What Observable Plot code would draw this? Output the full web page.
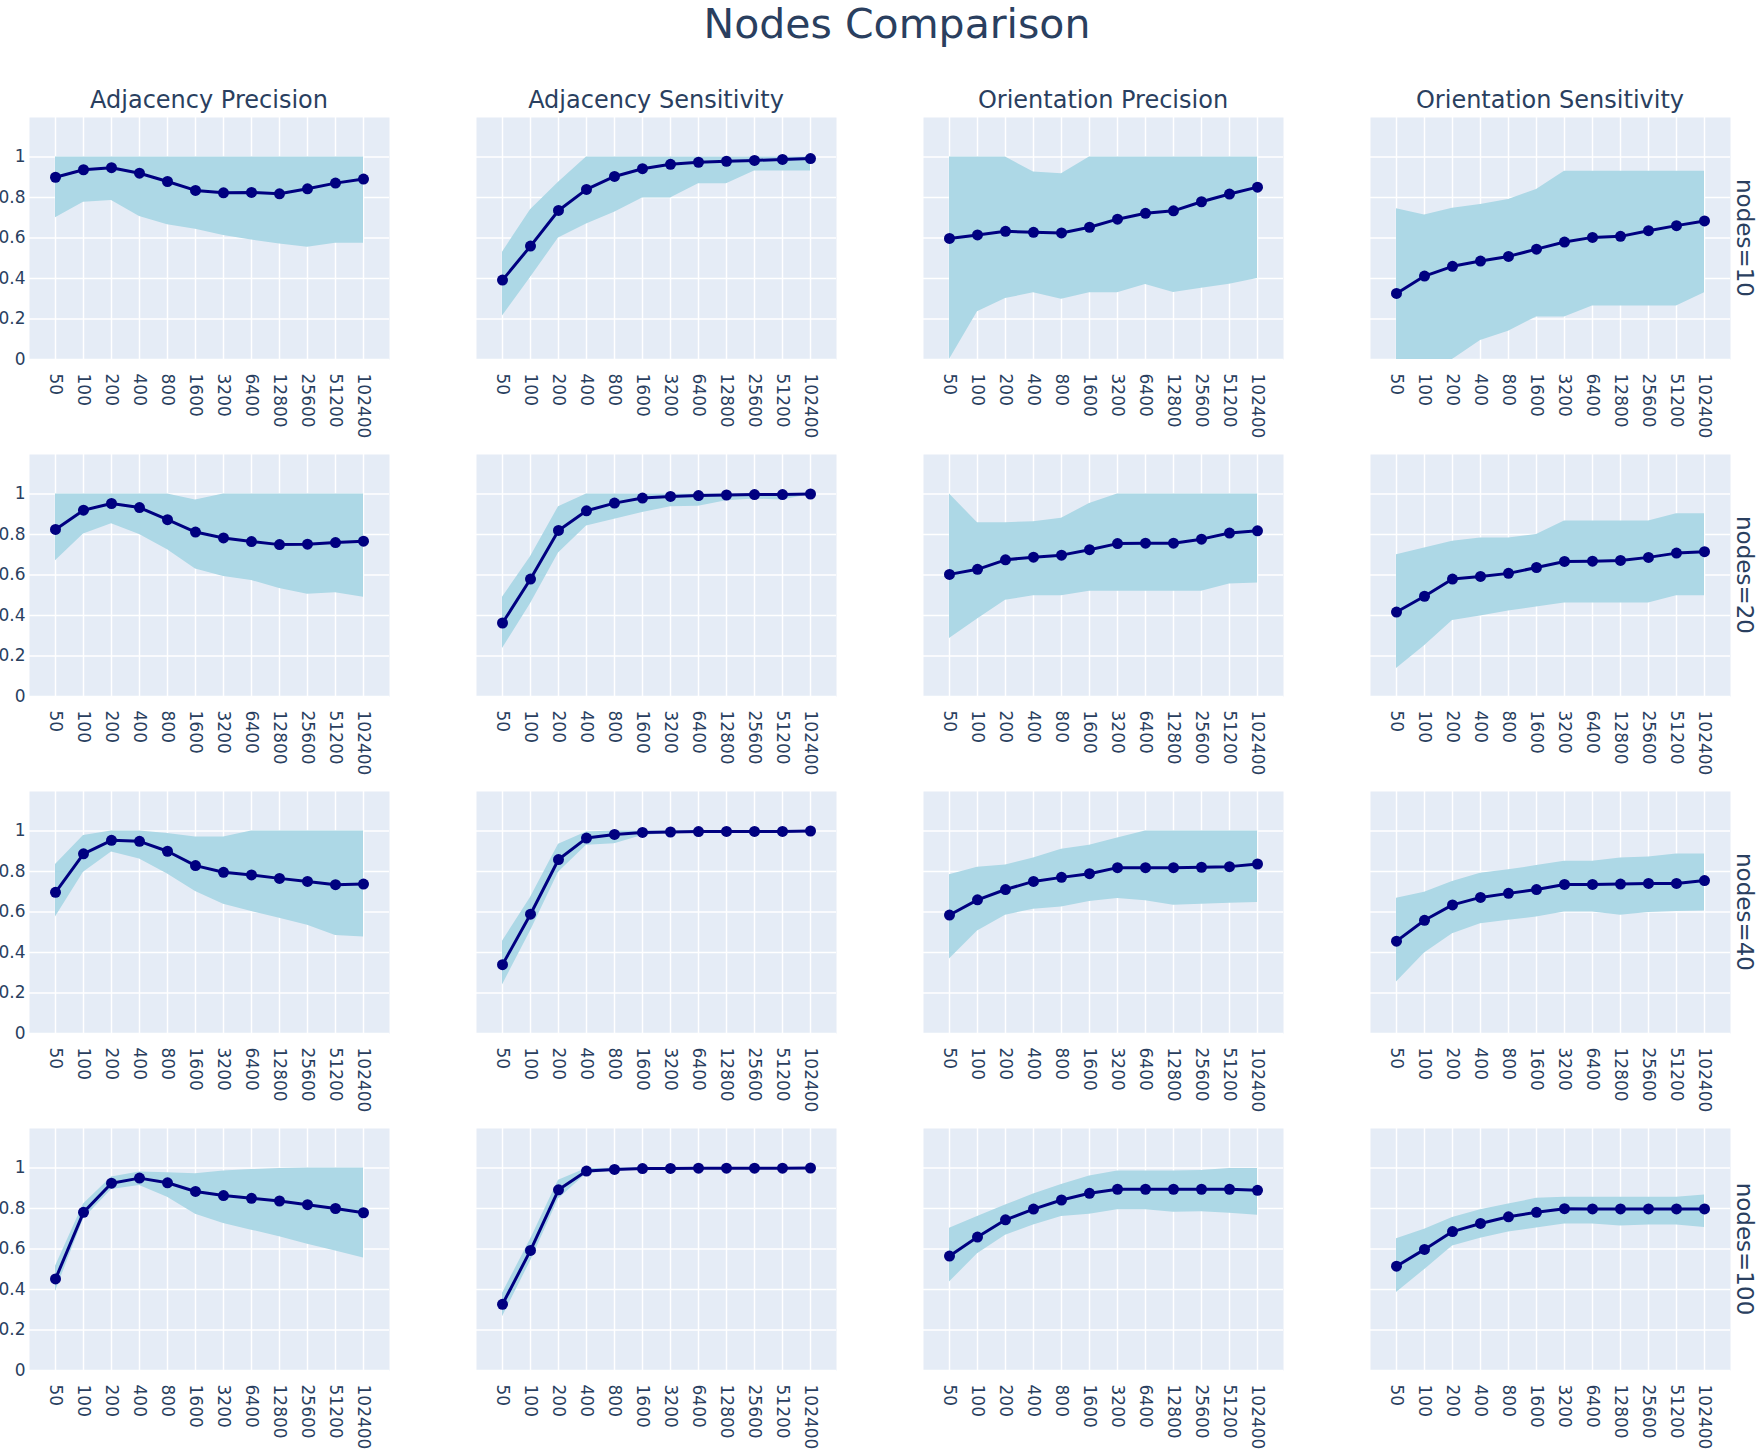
<!DOCTYPE html>
<html>
<head>
<meta charset="utf-8">
<script src="https://cdn.jsdelivr.net/npm/d3@7"></script>
<script src="https://cdn.jsdelivr.net/npm/@observablehq/plot@0.6"></script>
<style>
  html, body { margin: 0; padding: 0; background: #ffffff; overflow: hidden; }
  #root { position: relative; width: 1758px; height: 1450px; font-family: "DejaVu Sans", sans-serif; color: #2a3f5f; }
  .txt { position: absolute; white-space: nowrap; line-height: 1; }
  .main-title { font-size: 41px; line-height: normal; transform: translateX(-50%); }
  .col-title { font-size: 24px; transform: translateX(-50%); }
  .row-title { font-size: 23px; writing-mode: vertical-rl; transform: translateY(-50%); }
  .cell { position: absolute; }
</style>
</head>
<body>
<div id="root"></div>
<script>
// ---------- data ----------
const sampleSizes = ["50", "100", "200", "400", "800", "1600", "3200", "6400", "12800", "25600", "51200", "102400"];
const metrics = ["Adjacency Precision", "Adjacency Sensitivity", "Orientation Precision", "Orientation Sensitivity"];
const nodeCounts = [10, 20, 40, 100];
const yTicks = [0, 0.2, 0.4, 0.6, 0.8, 1];
const chartTitle = "Nodes Comparison";

// each array: one row per node count (10, 20, 40, 100), one value per sample size
const adjPrecisionMean = [
  [0.900, 0.937, 0.947, 0.920, 0.879, 0.835, 0.823, 0.825, 0.818, 0.843, 0.871, 0.891],
  [0.825, 0.920, 0.953, 0.933, 0.873, 0.812, 0.783, 0.765, 0.750, 0.752, 0.760, 0.767],
  [0.697, 0.887, 0.954, 0.949, 0.900, 0.829, 0.796, 0.783, 0.766, 0.751, 0.735, 0.738],
  [0.452, 0.781, 0.925, 0.950, 0.927, 0.884, 0.864, 0.850, 0.837, 0.819, 0.800, 0.779]
];
const adjPrecisionLow = [
  [0.700, 0.777, 0.785, 0.706, 0.666, 0.643, 0.612, 0.590, 0.570, 0.554, 0.574, 0.574],
  [0.670, 0.803, 0.853, 0.800, 0.725, 0.630, 0.592, 0.573, 0.533, 0.505, 0.512, 0.490],
  [0.575, 0.796, 0.896, 0.862, 0.788, 0.701, 0.638, 0.602, 0.569, 0.534, 0.484, 0.476],
  [0.390, 0.748, 0.894, 0.914, 0.855, 0.772, 0.726, 0.693, 0.661, 0.623, 0.590, 0.556]
];
const adjPrecisionHigh = [
  [1, 1, 1, 1, 1, 1, 1, 1, 1, 1, 1, 1],
  [1, 1, 1, 1, 1, 0.970, 1, 1, 1, 1, 1, 1],
  [0.834, 0.978, 1, 1, 0.987, 0.970, 0.970, 1, 1, 1, 1, 1],
  [0.515, 0.822, 0.955, 0.980, 0.977, 0.972, 0.985, 0.992, 0.997, 1, 1, 1]
];

const adjSensitivityMean = [
  [0.392, 0.560, 0.736, 0.840, 0.904, 0.942, 0.964, 0.974, 0.979, 0.983, 0.988, 0.992],
  [0.363, 0.580, 0.820, 0.917, 0.955, 0.980, 0.988, 0.992, 0.995, 0.997, 0.997, 1.000],
  [0.340, 0.589, 0.859, 0.965, 0.983, 0.993, 0.995, 0.997, 0.998, 0.998, 0.998, 1.000],
  [0.327, 0.593, 0.892, 0.985, 0.993, 0.997, 0.998, 0.999, 0.999, 0.999, 0.999, 1.000]
];
const adjSensitivityLow = [
  [0.215, 0.405, 0.600, 0.669, 0.727, 0.797, 0.797, 0.868, 0.868, 0.931, 0.931, 0.931],
  [0.237, 0.458, 0.708, 0.842, 0.875, 0.908, 0.937, 0.940, 0.967, 0.975, 0.970, 0.997],
  [0.240, 0.506, 0.796, 0.929, 0.937, 0.978, 0.987, 0.990, 0.992, 0.993, 0.993, 0.995],
  [0.266, 0.540, 0.847, 0.972, 0.985, 0.990, 0.992, 0.993, 0.994, 0.995, 0.995, 0.996]
];
const adjSensitivityHigh = [
  [0.530, 0.740, 0.875, 1, 1, 1, 1, 1, 1, 1, 1, 1],
  [0.490, 0.690, 0.937, 1, 1, 1, 1, 1, 1, 1, 1, 1],
  [0.456, 0.672, 0.934, 0.995, 1, 1, 1, 1, 1, 1, 1, 1],
  [0.382, 0.648, 0.939, 0.997, 1, 1, 1, 1, 1, 1, 1, 1]
];

const oriPrecisionMean = [
  [0.598, 0.615, 0.633, 0.628, 0.625, 0.653, 0.693, 0.722, 0.734, 0.779, 0.817, 0.851],
  [0.603, 0.628, 0.675, 0.688, 0.698, 0.725, 0.755, 0.757, 0.757, 0.777, 0.807, 0.818],
  [0.585, 0.660, 0.711, 0.751, 0.771, 0.789, 0.819, 0.819, 0.819, 0.821, 0.824, 0.837],
  [0.565, 0.659, 0.744, 0.797, 0.842, 0.875, 0.895, 0.895, 0.895, 0.895, 0.895, 0.890]
];
const oriPrecisionLow = [
  [0.000, 0.236, 0.301, 0.329, 0.298, 0.329, 0.329, 0.370, 0.331, 0.352, 0.372, 0.400],
  [0.287, 0.383, 0.475, 0.497, 0.497, 0.520, 0.520, 0.520, 0.520, 0.520, 0.555, 0.560],
  [0.368, 0.506, 0.584, 0.614, 0.625, 0.652, 0.667, 0.655, 0.633, 0.638, 0.643, 0.647],
  [0.437, 0.576, 0.668, 0.718, 0.761, 0.772, 0.794, 0.794, 0.781, 0.784, 0.777, 0.767]
];
const oriPrecisionHigh = [
  [1, 1, 1, 0.926, 0.917, 1, 1, 1, 1, 1, 1, 1],
  [1, 0.858, 0.858, 0.863, 0.880, 0.953, 1, 1, 1, 1, 1, 1],
  [0.784, 0.821, 0.832, 0.867, 0.910, 0.929, 0.965, 1, 1, 1, 1, 1],
  [0.703, 0.761, 0.817, 0.872, 0.919, 0.960, 0.985, 0.985, 0.985, 0.988, 0.997, 0.997]
];

const oriSensitivityMean = [
  [0.326, 0.412, 0.460, 0.486, 0.509, 0.545, 0.580, 0.603, 0.608, 0.636, 0.661, 0.684],
  [0.417, 0.495, 0.580, 0.593, 0.608, 0.637, 0.667, 0.668, 0.672, 0.687, 0.708, 0.715],
  [0.456, 0.559, 0.635, 0.672, 0.692, 0.711, 0.736, 0.736, 0.738, 0.741, 0.741, 0.755],
  [0.515, 0.598, 0.686, 0.726, 0.759, 0.781, 0.799, 0.798, 0.798, 0.798, 0.798, 0.798]
];
const oriSensitivityLow = [
  [-0.120, -0.050, 0.000, 0.094, 0.140, 0.210, 0.210, 0.264, 0.264, 0.264, 0.264, 0.330],
  [0.138, 0.250, 0.375, 0.397, 0.422, 0.442, 0.462, 0.462, 0.462, 0.462, 0.497, 0.497],
  [0.254, 0.398, 0.493, 0.542, 0.559, 0.575, 0.600, 0.600, 0.584, 0.597, 0.602, 0.605],
  [0.385, 0.498, 0.615, 0.653, 0.684, 0.704, 0.723, 0.723, 0.714, 0.718, 0.718, 0.706]
];
const oriSensitivityHigh = [
  [0.744, 0.714, 0.747, 0.765, 0.790, 0.840, 0.929, 0.929, 0.929, 0.929, 0.929, 0.929],
  [0.700, 0.733, 0.767, 0.783, 0.783, 0.800, 0.867, 0.867, 0.867, 0.867, 0.903, 0.903],
  [0.668, 0.697, 0.751, 0.791, 0.808, 0.829, 0.851, 0.851, 0.867, 0.871, 0.886, 0.886],
  [0.651, 0.698, 0.756, 0.794, 0.822, 0.850, 0.855, 0.855, 0.855, 0.855, 0.855, 0.867]
];

// ---------- layout ----------
const series = [
  [adjPrecisionMean, adjPrecisionLow, adjPrecisionHigh],
  [adjSensitivityMean, adjSensitivityLow, adjSensitivityHigh],
  [oriPrecisionMean, oriPrecisionLow, oriPrecisionHigh],
  [oriSensitivityMean, oriSensitivityLow, oriSensitivityHigh]
];
const colLeft = [29, 476, 923, 1370];
const rowTop = [117, 454, 791, 1128];
const PW = 360, PH = 242;
const ML = 40, MR = 10, MT = 5, MB = 95;
const INK = "#2a3f5f";

const root = document.getElementById("root");

function addText(cls, text, left, top) {
  const d = document.createElement("div");
  d.className = "txt " + cls;
  d.textContent = text;
  d.style.left = left + "px";
  d.style.top = top + "px";
  root.appendChild(d);
}

addText("main-title", chartTitle, 897, 0);
metrics.forEach((m, c) => addText("col-title", m, colLeft[c] + PW / 2, 88));
nodeCounts.forEach((n, r) => addText("row-title", "nodes=" + n, 1733, rowTop[r] + PH / 2));

function panel(mean, low, high, showY) {
  const data = sampleSizes.map((s, i) => ({ s, m: mean[i], lo: low[i], hi: high[i] }));
  const marks = [
    Plot.frame({ fill: "#E5ECF6", stroke: "none" }),
    Plot.gridX({ stroke: "white", strokeOpacity: 1, strokeWidth: 1.5 }),
    Plot.gridY(yTicks, { stroke: "white", strokeOpacity: 1, strokeWidth: 1.5 }),
    Plot.areaY(data, { x: "s", y1: "lo", y2: "hi", fill: "#ADD8E6", clip: true }),
    Plot.line(data, { x: "s", y: "m", stroke: "#000080", strokeWidth: 3 }),
    Plot.dot(data, { x: "s", y: "m", r: 5.5, fill: "#000080", stroke: "none" }),
    Plot.axisX({ tickRotate: 90, tickSize: 0, tickPadding: 14, fontSize: 17, label: null })
  ];
  if (showY) {
    marks.push(Plot.axisY(yTicks, { tickSize: 0, tickPadding: 4, fontSize: 17, label: null, tickFormat: d3.format("~g") }));
  }
  return Plot.plot({
    width: PW + ML + MR,
    height: PH + MT + MB,
    marginLeft: ML, marginRight: MR, marginTop: MT, marginBottom: MB,
    style: `background:transparent;overflow:visible;font-family:'DejaVu Sans',sans-serif;font-size:17px;color:${INK};`,
    x: { type: "point", domain: sampleSizes, padding: 0.82, label: null },
    y: { domain: [0, 1.195], label: null, axis: showY ? undefined : null },
    marks
  });
}

nodeCounts.forEach((n, r) => {
  metrics.forEach((m, c) => {
    const [mean, low, high] = series[c];
    const svg = panel(mean[r], low[r], high[r], c === 0);
    const cell = document.createElement("div");
    cell.className = "cell";
    cell.style.left = (colLeft[c] - ML) + "px";
    cell.style.top = (rowTop[r] - MT) + "px";
    cell.appendChild(svg);
    root.appendChild(cell);
  });
});
</script>
</body>
</html>
